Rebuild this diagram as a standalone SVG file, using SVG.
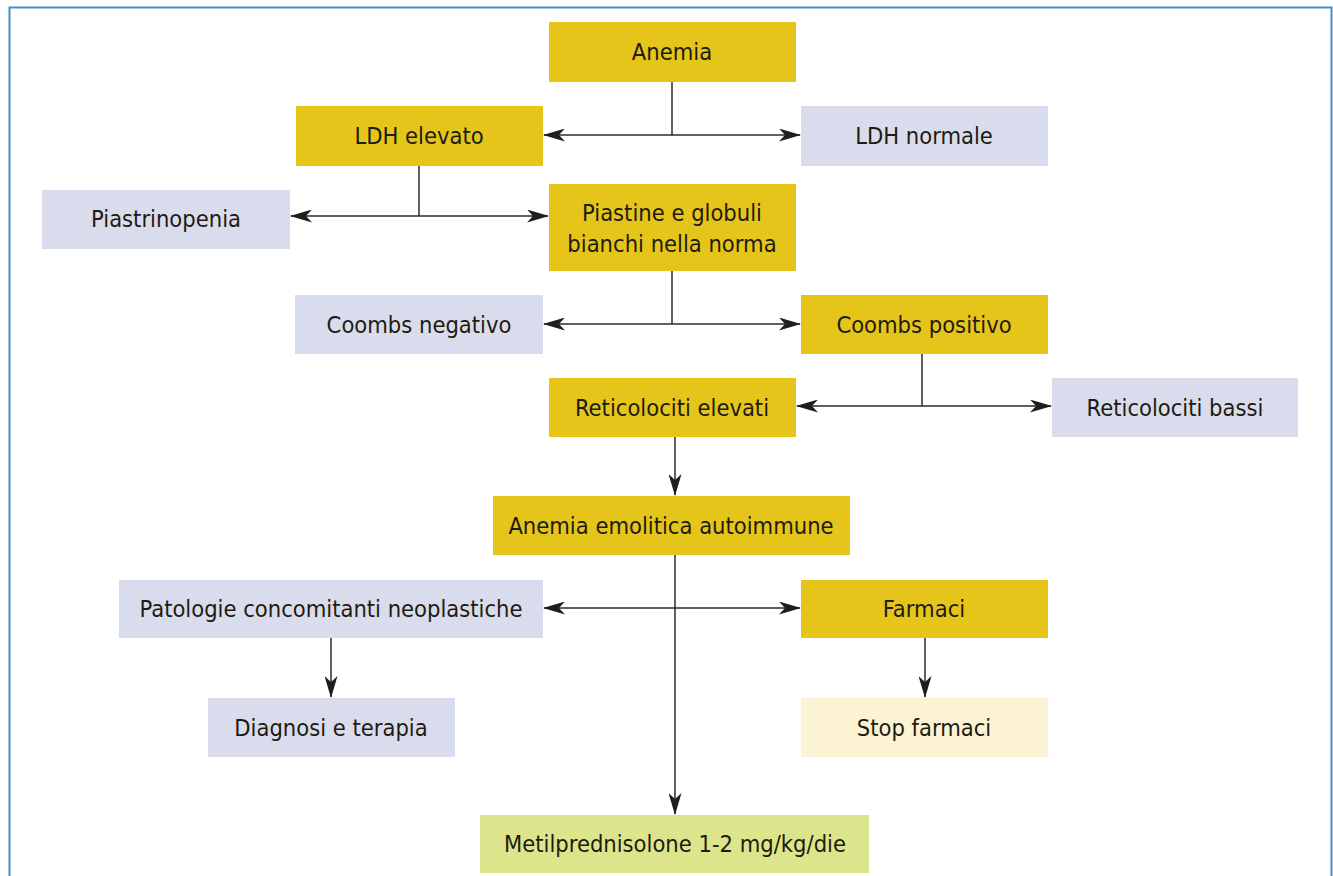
<svg xmlns="http://www.w3.org/2000/svg" width="1333" height="876" viewBox="0 0 1333 876">
<defs>
<style>
.y{fill:#E5C51A}
.l{fill:#D9DCEC}
.g{fill:#DCE58C}
.p{fill:#FBF3D4}
text{font-family:"DejaVu Sans Condensed","DejaVu Sans",sans-serif;font-stretch:condensed;font-size:23.5px;fill:#1f1b10;text-anchor:middle;dominant-baseline:central}
.c{fill:none;stroke:#2b2b2b;stroke-width:1.5}
</style>
<marker id="a" viewBox="0 0 22 13" refX="21" refY="6.5" markerWidth="22" markerHeight="13" markerUnits="userSpaceOnUse" orient="auto-start-reverse">
<path d="M0,0 L22,6.5 L0,13 L6,6.5 z" fill="#1e1e1e"/>
</marker>
</defs>
<rect width="1333" height="876" fill="#fff"/>
<path d="M9.5,876 V7.5 H1331.5 V876" fill="none" stroke="#3F8FCC" stroke-width="2"/>
<g id="connectors">
<path class="c" d="M672,82 V135"/>
<path class="c" d="M544,135 H800" marker-start="url(#a)" marker-end="url(#a)"/>
<path class="c" d="M419,166 V216"/>
<path class="c" d="M291,216 H548" marker-start="url(#a)" marker-end="url(#a)"/>
<path class="c" d="M672,271 V324"/>
<path class="c" d="M544,324 H800" marker-start="url(#a)" marker-end="url(#a)"/>
<path class="c" d="M922,354 V406"/>
<path class="c" d="M797,406 H1051" marker-start="url(#a)" marker-end="url(#a)"/>
<path class="c" d="M675,437 V495" marker-end="url(#a)"/>
<path class="c" d="M544,608 H800" marker-start="url(#a)" marker-end="url(#a)"/>
<path class="c" d="M675,555 V814" marker-end="url(#a)"/>
<path class="c" d="M331,638 V697" marker-end="url(#a)"/>
<path class="c" d="M925,638 V697" marker-end="url(#a)"/>
</g>
<g id="anemia"><rect class="y" x="549" y="22" width="247" height="60"/><text x="672" y="52">Anemia</text></g>
<g id="ldh-elevato"><rect class="y" x="296" y="106" width="247" height="60"/><text x="419" y="136">LDH elevato</text></g>
<g id="ldh-normale"><rect class="l" x="801" y="106" width="247" height="60"/><text x="924" y="136">LDH normale</text></g>
<g id="piastrinopenia"><rect class="l" x="42" y="190" width="248" height="59"/><text x="166" y="219">Piastrinopenia</text></g>
<g id="piastrine-norma"><rect class="y" x="549" y="184" width="247" height="87"/><text x="672" y="213">Piastine e globuli</text><text x="672" y="244">bianchi nella norma</text></g>
<g id="coombs-negativo"><rect class="l" x="295" y="295" width="248" height="59"/><text x="419" y="325">Coombs negativo</text></g>
<g id="coombs-positivo"><rect class="y" x="801" y="295" width="247" height="59"/><text x="924" y="325">Coombs positivo</text></g>
<g id="reticolociti-elevati"><rect class="y" x="549" y="378" width="247" height="59"/><text x="672" y="408">Reticolociti elevati</text></g>
<g id="reticolociti-bassi"><rect class="l" x="1052" y="378" width="246" height="59"/><text x="1175" y="408">Reticolociti bassi</text></g>
<g id="anemia-emolitica"><rect class="y" x="493" y="496" width="357" height="59"/><text x="671" y="526">Anemia emolitica autoimmune</text></g>
<g id="patologie"><rect class="l" x="119" y="580" width="424" height="58"/><text x="331" y="609">Patologie concomitanti neoplastiche</text></g>
<g id="farmaci"><rect class="y" x="801" y="580" width="247" height="58"/><text x="924" y="609">Farmaci</text></g>
<g id="diagnosi"><rect class="l" x="208" y="698" width="247" height="59"/><text x="331" y="728">Diagnosi e terapia</text></g>
<g id="stop-farmaci"><rect class="p" x="801" y="698" width="247" height="59"/><text x="924" y="728">Stop farmaci</text></g>
<g id="metilprednisolone"><rect class="g" x="480" y="815" width="389" height="58"/><text x="675" y="844">Metilprednisolone 1-2 mg/kg/die</text></g>
</svg>
